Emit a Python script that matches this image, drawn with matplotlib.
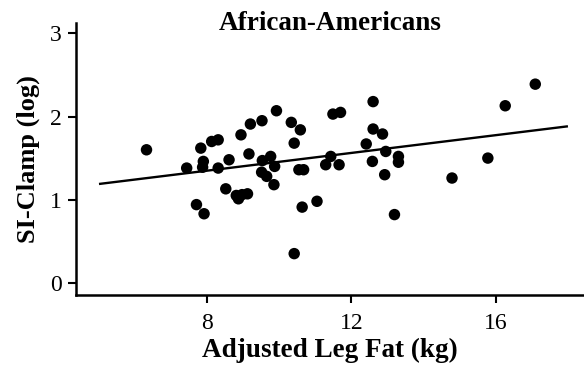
import matplotlib
matplotlib.use('Agg')
import numpy as np
import matplotlib.pyplot as plt

# adjusted leg fat (kg) vs SI-clamp (log)
leg_fat = [6.34, 7.45, 7.84, 7.91, 7.89, 7.72, 7.93, 8.14, 8.32, 8.32,
           8.62, 8.53, 8.82, 8.88, 8.98, 9.13, 8.95, 9.17, 9.21, 9.53,
           9.93, 9.54, 9.77, 9.52, 9.66, 9.88, 9.86, 10.34, 10.59, 10.42,
           10.55, 10.68, 10.64, 10.42, 11.05, 11.29, 11.43, 11.49, 11.70, 11.66,
           12.41, 12.60, 12.60, 12.86, 12.58, 12.95, 12.92, 13.30, 13.30, 13.19,
           14.78, 15.77, 16.25, 17.08]
si_clamp = [1.60, 1.38, 1.62, 1.46, 1.39, 0.94, 0.83, 1.70, 1.72, 1.38,
            1.48, 1.13, 1.05, 1.01, 1.06, 1.07, 1.78, 1.55, 1.91, 1.95,
            2.07, 1.47, 1.52, 1.33, 1.28, 1.40, 1.18, 1.93, 1.84, 1.68,
            1.36, 1.36, 0.91, 0.35, 0.98, 1.42, 1.52, 2.03, 2.05, 1.42,
            1.67, 2.18, 1.85, 1.79, 1.46, 1.58, 1.30, 1.52, 1.45, 0.82,
            1.26, 1.50, 2.13, 2.39]

x_ticks = [8, 12, 16]
y_ticks = [0, 1, 2, 3]

# fitted line as drawn
fit_x = [5.06, 17.95]
fit_slope = 0.0536
fit_icept = 0.919

plt.rcParams['font.family'] = 'Liberation Serif'

fig = plt.figure(figsize=(5.84, 3.66), dpi=100)
ax = fig.add_axes([0.130, 0.194, 0.869, 0.744])

ax.scatter(leg_fat, si_clamp, s=68, color='black', edgecolors='none', zorder=3)
fx = np.array(fit_x)
ax.plot(fx, fit_icept + fit_slope * fx, color='black', lw=1.7)

ax.set_xlim(4.39, 18.41)
ax.set_ylim(-0.148, 3.13)
ax.set_xticks(x_ticks, [str(t) for t in x_ticks])
ax.set_yticks(y_ticks, [str(t) for t in y_ticks])

for s in ['top', 'right']:
    ax.spines[s].set_visible(False)
for s in ['left', 'bottom']:
    ax.spines[s].set_linewidth(1.8)
ax.tick_params(direction='out', length=6, width=1.5, labelsize=17)
ax.tick_params(axis='x', pad=7)
ax.tick_params(axis='y', pad=4)

ax.set_xlabel('Adjusted Leg Fat (kg)', fontsize=19.5, fontweight='bold', labelpad=2.5)
ax.set_ylabel('SI-Clamp (log)', fontsize=19, fontweight='bold', labelpad=7.3)
fig.text(0.565, 1 - 24 / 366, 'African-Americans', fontsize=19.5, fontweight='bold',
         ha='center', va='center')

fig.savefig('out.png', dpi=100)
